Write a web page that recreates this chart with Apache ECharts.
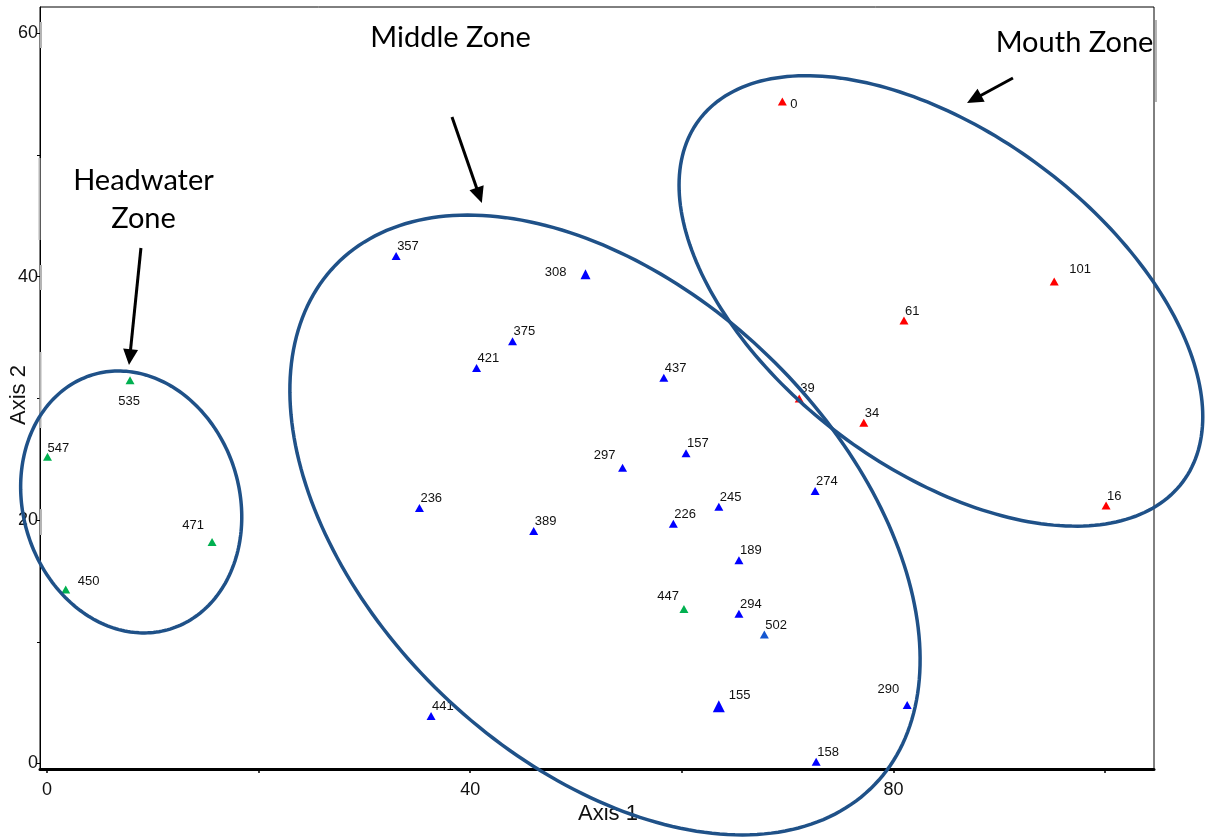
<!DOCTYPE html>
<html>
<head>
<meta charset="utf-8">
<script src="https://cdn.jsdelivr.net/npm/echarts@6/dist/echarts.min.js"></script>
<style>
  html, body { margin: 0; padding: 0; background: #fff; }
  #chart { width: 1211px; height: 837px; }
</style>
</head>
<body>
<div id="chart"></div>
<script>
// Site scores on the first two ordination axes, grouped by symbol colour
const greenSites = ['535', '547', '471', '450', '447'];
const greenAxis1 = [7.85, 0.05, 15.6, 1.77, 60.2];
const greenAxis2 = [31.5, 25.2, 18.2, 14.3, 12.7];

const blueSites = ['357', '308', '375', '421', '437', '297', '157', '236', '389', '226',
                   '245', '274', '189', '294', '502', '155', '441', '158', '290'];
const blueAxis1 = [33.0, 50.9, 44.0, 40.6, 58.3, 54.4, 60.4, 35.2, 46.0, 59.2,
                   63.5, 72.6, 65.4, 65.4, 67.8, 63.5, 36.3, 72.7, 81.3];
const blueAxis2 = [41.7, 40.2, 34.7, 32.5, 31.7, 24.3, 25.5, 21.0, 19.1, 19.7,
                   21.1, 22.4, 16.7, 12.3, 10.6, 4.7, 3.9, 0.15, 4.8];

const redSites = ['0', '101', '61', '39', '34', '16'];
const redAxis1 = [69.5, 95.2, 81.0, 71.1, 77.2, 100.1];
const redAxis2 = [54.4, 39.6, 36.4, 30.0, 28.0, 21.2];

// Axis ticks and labels
const xTickValues = [0, 20, 40, 60, 80, 100];
const xLabelValues = [0, 40, 80];
const yTickValues = [0, 10, 20, 30, 40, 50, 60];
const yLabelValues = [0, 20, 40, 60];

// Zone outlines: centre (axis units), semi-axes (axis-1 units), tilt (degrees, screen)
const zoneNames = ['Headwater\nZone', 'Middle Zone', 'Mouth Zone'];
const zoneCentres = [[7.96, 21.49], [52.74, 19.60], [84.49, 38.01]];
const zoneSemiAxes = [[12.56, 10.23], [35.38, 22.21], [28.55, 15.83]];
const zoneTilt = [73.0, 43.9, 36.8];
const zoneTitlePos = [[9.12, 46.3], [38.14, 59.62], [97.12, 59.24]];
const zoneArrowFrom = [[8.88, 42.36], [38.28, 53.12], [91.3, 56.33]];
const zoneArrowTo = [[7.75, 32.74], [41.1, 46.06], [86.96, 54.28]];

// Label placement per site: [dx, dy, align, verticalAlign] relative to the marker centre
const labelPlacement = {
  '535': [-1, 15, 'center', 'top'],
  '308': [-19, 5, 'right', 'bottom'],
  '297': [-7, -6, 'right', 'bottom'],
  '447': [-5, -6, 'right', 'bottom'],
  '290': [-8, -9, 'right', 'bottom'],
  '471': [-8, -10, 'right', 'bottom'],
  '101': [15, -6, 'left', 'bottom'],
  '0':   [8, 3, 'left', 'middle'],
  '450': [12, -2, 'left', 'bottom'],
  '155': [10, -4, 'left', 'bottom'],
  '547': [0, -2, 'left', 'bottom']
};
const defaultPlacement = [1, -3, 'left', 'bottom'];
const markerSize = { '155': [12, 12], '308': [10, 10] };
const defaultMarker = [9, 8];
const markerColour = { '502': '#1456d0' };

function buildPoints(names, xs, ys, colour) {
  return names.map((n, i) => {
    const size = markerSize[n] || defaultMarker;
    const pl = labelPlacement[n] || defaultPlacement;
    return {
      name: n,
      value: [xs[i], ys[i]],
      symbolSize: size,
      itemStyle: { color: markerColour[n] || colour, opacity: 1 },
      label: {
        show: true,
        formatter: n,
        position: [size[0] / 2 + pl[0], size[1] / 2 + pl[1]],
        align: pl[2],
        verticalAlign: pl[3]
      }
    };
  });
}

const labelFont = {
  fontFamily: 'Liberation Sans, Arial, sans-serif',
  fontSize: 13,
  color: '#111'
};

function pointSeries(name, data) {
  return {
    name: name,
    type: 'scatter',
    symbol: 'triangle',
    data: data,
    z: 3,
    itemStyle: { opacity: 1 },
    label: Object.assign({ show: true }, labelFont),
    emphasis: { disabled: true }
  };
}

function renderZones(params, api) {
  const sx = api.size([1, 1])[0];
  const children = [];
  const outline = '#1f5188';
  for (let k = 0; k < zoneCentres.length; k++) {
    const c = api.coord(zoneCentres[k]);
    const A = zoneSemiAxes[k][0] * sx;
    const B = zoneSemiAxes[k][1] * sx;
    const phi = zoneTilt[k] * Math.PI / 180;
    const cp = Math.cos(phi), sp = Math.sin(phi);
    const pts = [];
    for (let j = 0; j < 240; j++) {
      const t = j / 240 * Math.PI * 2;
      const ex = A * Math.cos(t), ey = B * Math.sin(t);
      pts.push([c[0] + ex * cp - ey * sp, c[1] + ex * sp + ey * cp]);
    }
    children.push({
      type: 'polygon',
      shape: { points: pts },
      style: { fill: null, stroke: outline, lineWidth: 3.5 }
    });

    // arrow pointing at the outline
    const p0 = api.coord(zoneArrowFrom[k]);
    const p1 = api.coord(zoneArrowTo[k]);
    const dx = p1[0] - p0[0], dy = p1[1] - p0[1];
    const len = Math.sqrt(dx * dx + dy * dy);
    const ux = dx / len, uy = dy / len;
    const nx = -uy, ny = ux;
    const headL = 16, headW = 7.5;
    const bx = p1[0] - ux * headL, by = p1[1] - uy * headL;
    children.push({
      type: 'line',
      shape: { x1: p0[0], y1: p0[1], x2: bx + ux * 2, y2: by + uy * 2 },
      style: { stroke: '#000', lineWidth: 3 }
    });
    children.push({
      type: 'polygon',
      shape: { points: [[p1[0], p1[1]], [bx + nx * headW, by + ny * headW], [bx - nx * headW, by - ny * headW]] },
      style: { fill: '#000' }
    });

    const tp = api.coord(zoneTitlePos[k]);
    children.push({
      type: 'text',
      x: tp[0], y: tp[1],
      style: {
        text: zoneNames[k],
        fill: '#000',
        font: '29px Lato, "Open Sans", sans-serif',
        lineHeight: 38,
        align: 'center',
        verticalAlign: 'middle'
      }
    });
  }
  return { type: 'group', children: children };
}

const chart = echarts.init(document.getElementById('chart'), null, { renderer: 'canvas' });

const axisText = { fontFamily: 'Liberation Sans, Arial, sans-serif', color: '#111' };

chart.setOption({
  animation: false,
  backgroundColor: '#fff',
  grid: {
    left: 40, right: 57, top: 7, bottom: 68,
    containLabel: false,
    outerBoundsMode: 'none',
    show: true, borderColor: '#000', borderWidth: 1, backgroundColor: 'transparent'
  },
  xAxis: {
    type: 'value',
    min: -0.66, max: 104.63,
    splitLine: { show: false },
    axisLine: { onZero: false, lineStyle: { color: '#000', width: 3 } },
    axisTick: { customValues: xTickValues, length: 4, lineStyle: { color: '#000', width: 1.5 } },
    axisLabel: Object.assign({ customValues: xLabelValues, fontSize: 18, margin: 12 }, axisText),
    name: 'Axis 1',
    nameLocation: 'middle',
    nameGap: 34,
    nameMoveOverlap: false,
    nameTextStyle: Object.assign({ fontSize: 22, padding: [0, 0, 0, 22] }, axisText)
  },
  yAxis: {
    type: 'value',
    min: -0.45, max: 62.16,
    splitLine: { show: false },
    axisLine: { onZero: false, lineStyle: { color: '#000', width: 1 } },
    axisTick: { customValues: yTickValues, length: 3, lineStyle: { color: '#000', width: 1 } },
    axisLabel: Object.assign({ customValues: yLabelValues, fontSize: 18, margin: 2 }, axisText),
    name: 'Axis 2',
    nameLocation: 'middle',
    nameRotate: 90,
    nameGap: 10,
    nameMoveOverlap: false,
    nameTextStyle: Object.assign({ fontSize: 22, padding: [0, 14, 0, 0] }, axisText)
  },
  graphic: [
    // light grey edge marks along the frame
    { type: 'rect', shape: { x: 40, y: 22, width: 2, height: 26 }, style: { fill: '#b4b4b4' }, z: 1 },
    { type: 'rect', shape: { x: 38.5, y: 158, width: 2, height: 82 }, style: { fill: '#b4b4b4' }, z: 1 },
    { type: 'rect', shape: { x: 40, y: 265, width: 2, height: 25 }, style: { fill: '#b4b4b4' }, z: 1 },
    { type: 'rect', shape: { x: 39.5, y: 352, width: 2, height: 76 }, style: { fill: '#b4b4b4' }, z: 1 },
    { type: 'rect', shape: { x: 40, y: 509, width: 2, height: 26 }, style: { fill: '#b4b4b4' }, z: 1 },
    { type: 'rect', shape: { x: 1155, y: 20, width: 2, height: 82 }, style: { fill: '#b4b4b4' }, z: 1 }
  ],
  series: [
    pointSeries('green', buildPoints(greenSites, greenAxis1, greenAxis2, '#00b050')),
    pointSeries('blue', buildPoints(blueSites, blueAxis1, blueAxis2, '#0000ff')),
    pointSeries('red', buildPoints(redSites, redAxis1, redAxis2, '#ff0000')),
    {
      type: 'custom',
      name: 'zones',
      data: [[0, 0]],
      clip: false,
      silent: true,
      z: 5,
      renderItem: renderZones
    }
  ]
});
</script>
</body>
</html>
